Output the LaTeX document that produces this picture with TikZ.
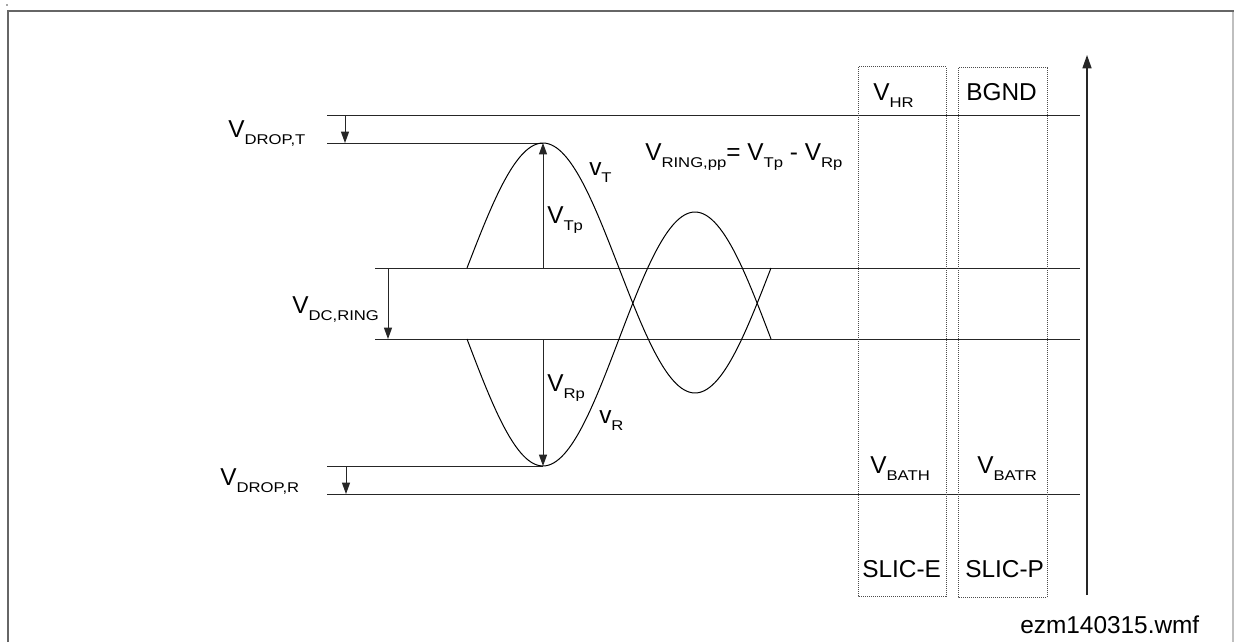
\documentclass[tikz,border=0pt]{standalone}
\usepackage{fontspec}
\setmainfont{Liberation Sans}
\usetikzlibrary{arrows.meta}
\newcommand\subx[1]{\raisebox{-5.6pt}{\scalebox{1.18}[1]{\fontsize{10.6pt}{11pt}\selectfont #1}}}
\tikzset{
  lbl/.style={anchor=base west, inner sep=0pt, font=\fontsize{18.3pt}{20pt}\selectfont},
  hline/.style={line width=0.75pt, black!85},
  dimarrow/.style={line width=0.75pt, black!85, -{Triangle[length=8.5pt,width=6pt]}},
  axisarrow/.style={line width=1pt, black!85, -{Triangle[length=10pt,width=6.8pt]}},
  slicbox/.style={line width=0.75pt, black!70, dash pattern=on 0.75pt off 0.75pt},
  wave/.style={line width=0.75pt, black},
  frameline/.style={line width=1.1pt, black!60}
}
\begin{document}
\begin{tikzpicture}[x=0.75pt,y=-0.75pt]
\useasboundingbox (0,0) rectangle (1234,642);
% frame
\coordinate (fbl) at (8,642);
\coordinate (ftl) at (8,11);
\coordinate (ftr) at (1234,11);
\draw[frameline] (fbl) -- (ftl) -- (ftr);
\coordinate (rt) at (1233,12);
\coordinate (rb) at (1233,642);
\draw[line width=0.8pt, black!25] (rt) -- (rb);
\fill[black!70] (7,5) circle (0.9);
% horizontal levels
\coordinate (a1) at (327,115); \coordinate (b1) at (1080,115);
\coordinate (a2) at (327,143); \coordinate (b2) at (543,143);
\coordinate (a3) at (375,268); \coordinate (b3) at (1080,268);
\coordinate (a4) at (375,339); \coordinate (b4) at (1080,339);
\coordinate (a5) at (327,466); \coordinate (b5) at (543,466);
\coordinate (a6) at (327,494); \coordinate (b6) at (1080,494);
\draw[hline] (a1) -- (b1);
\draw[hline] (a2) -- (b2);
\draw[hline] (a3) -- (b3);
\draw[hline] (a4) -- (b4);
\draw[hline] (a5) -- (b5);
\draw[hline] (a6) -- (b6);
% dimension arrows
\coordinate (dt1) at (345,115); \coordinate (dt2) at (345,143);
\coordinate (dc1) at (388,268); \coordinate (dc2) at (388,339);
\coordinate (tp1) at (543,268); \coordinate (tp2) at (543,143);
\coordinate (rp1) at (543,339); \coordinate (rp2) at (543,466);
\coordinate (dr1) at (346,466); \coordinate (dr2) at (346,494);
\draw[dimarrow] (dt1) -- (dt2);
\draw[dimarrow] (dc1) -- (dc2);
\draw[dimarrow] (tp1) -- (tp2);
\draw[dimarrow] (rp1) -- (rp2);
\draw[dimarrow] (dr1) -- (dr2);
% waves
\draw[wave] plot[domain=467:771, samples=120, smooth] (\x, {268 - 125*sin((\x-467)/304*360)});
\draw[wave] plot[domain=467:771, samples=120, smooth] (\x, {339 + 127*sin((\x-467)/304*360)});
% SLIC boxes
\draw[slicbox] (858,67) rectangle (946,596);
\draw[slicbox] (958,68) rectangle (1047,597);
% axis
\coordinate (ax1) at (1087,595); \coordinate (ax2) at (1087,55);
\draw[axisarrow] (ax1) -- (ax2);
% labels
\node[lbl] (ldropt) at (228,137) {V\subx{DROP,T}};
\node[lbl] (ldc) at (292,313) {V\subx{DC,RING}};
\node[lbl] (ltp) at (547,223) {V\subx{Tp}};
\node[lbl] (lrp) at (547,391) {V\subx{Rp}};
\node[lbl] (lvt) at (589,175) {v\subx{T}};
\node[lbl] (lvr) at (599,423) {v\subx{R}};
\node[lbl] (lring) at (645,160) {V\subx{RING,pp}= V\subx{Tp} - V\subx{Rp}};
\node[lbl] (lhr) at (873,100) {V\subx{HR}};
\node[lbl] (lbgnd) at (966,100) {BGND};
\node[lbl] (lbath) at (870,473) {V\subx{BATH}};
\node[lbl] (lbatr) at (977,473) {V\subx{BATR}};
\node[lbl] (lslice) at (862,577) {SLIC-E};
\node[lbl] (lslicp) at (965,577) {SLIC-P};
\node[lbl] (lfile) at (1020,633) {ezm140315.wmf};
\node[lbl] (ldropr) at (220,485) {V\subx{DROP,R}};
\end{tikzpicture}
\end{document}
